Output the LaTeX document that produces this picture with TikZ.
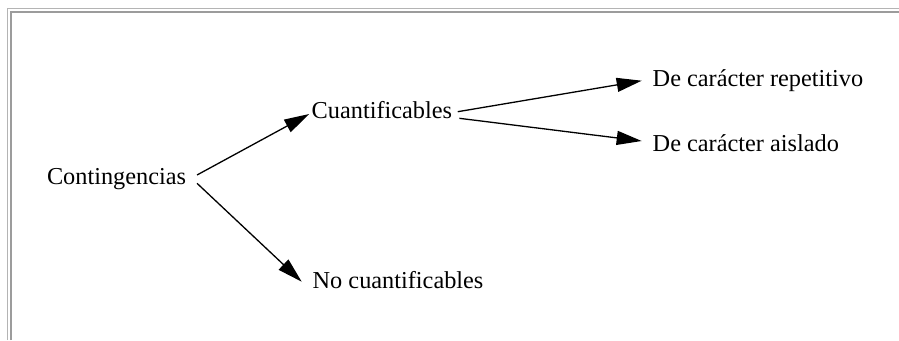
\documentclass[tikz,border=0pt]{standalone}
\usepackage{fontspec}
\setmainfont{Liberation Serif}
\usetikzlibrary{arrows.meta,calc}

\definecolor{frameouter}{HTML}{B4B4B4}
\definecolor{frameinner}{HTML}{9C9C9C}

\tikzset{
  label/.style={anchor=base west, inner sep=0pt, outer sep=0pt,
                font=\fontsize{24.3}{28}\selectfont},
  link/.style={line width=1.3pt, -{Triangle[length=25pt,width=14pt]}},
}

\begin{document}
\begin{tikzpicture}[x=1pt, y=-1pt]
  \useasboundingbox (0,0) rectangle (899,340);
  \fill[white] (0,0) rectangle (899,340);

  % sunken frame: thin outer rule and thicker inner rule
  \draw[frameouter, line width=1pt] (7.5,340) -- (7.5,8.5) -- (899,8.5);
  \draw[frameinner, line width=2.4pt] (11,340) -- (11,12.2) -- (899,12.2);

  % labels
  \node[label] (cont) at (47,184.3) {Contingencias};
  \node[label] (cuan) at (311.7,118.3) {Cuantificables};
  \node[label] (nocu) at (312.7,288.3) {No cuantificables};
  \node[label] (rep)  at (652.7,86.7) {De carácter repetitivo};
  \node[label] (ais)  at (652.7,151.7) {De carácter aislado};

  % connectors
  \draw[link] ($(cont.base east)+(11,-9.3)$) -- ($(cuan.base west)+(-2.5,-4.3)$);
  \draw[link] ($(cont.base east)+(11,-1)$) -- ($(nocu.base west)+(-11,-6.6)$);
  \draw[link] ($(cuan.base east)+(5.7,-6.6)$) -- ($(rep.base west)+(-11,-6)$);
  \draw[link] ($(cuan.base east)+(7.3,0)$) -- ($(ais.base west)+(-11,-10.7)$);
\end{tikzpicture}
\end{document}
